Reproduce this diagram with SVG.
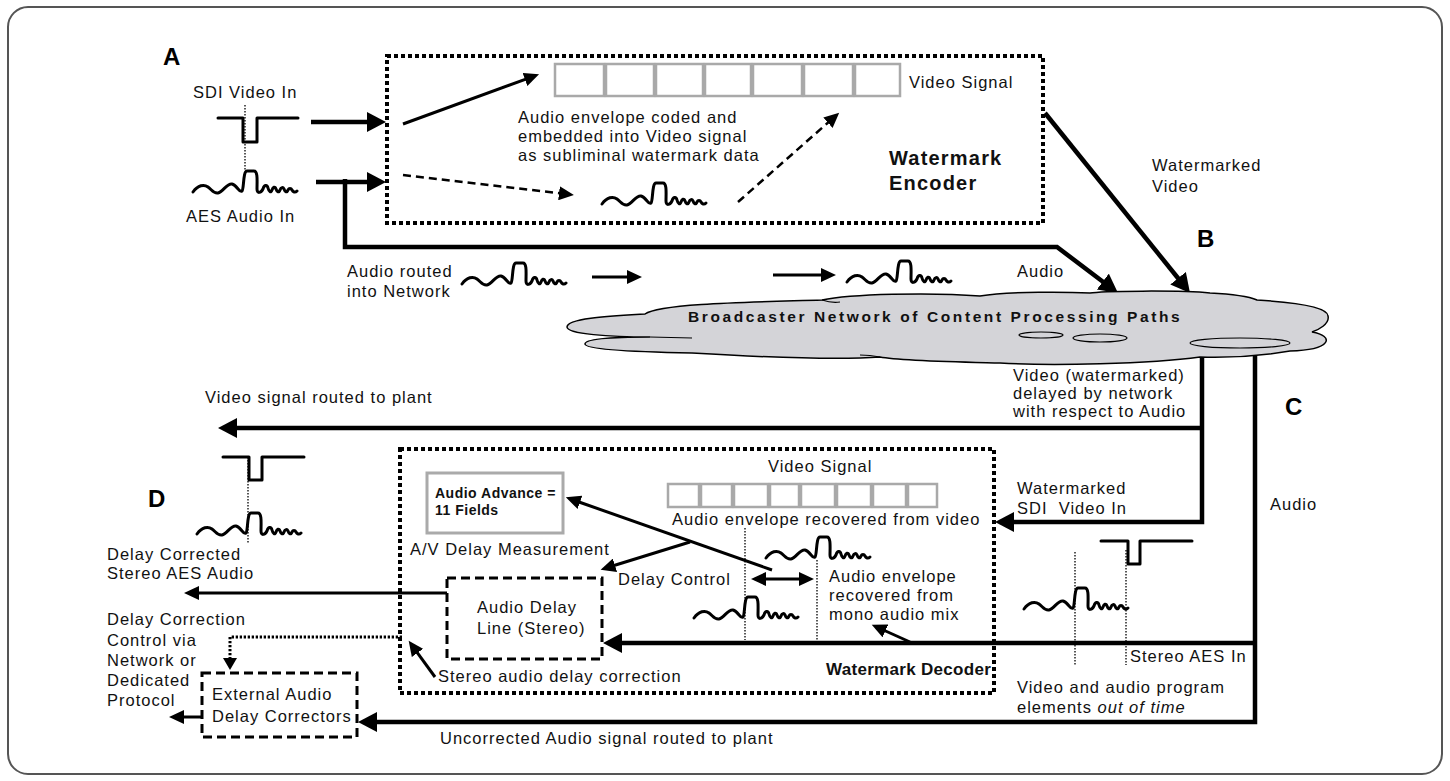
<svg xmlns="http://www.w3.org/2000/svg" width="1450" height="781" viewBox="0 0 1450 781">
<defs>
<style>
.t{font-family:"Liberation Sans",Arial,Helvetica,sans-serif;font-size:16.5px;letter-spacing:1px;fill:#111}
.bd{font-weight:bold}
.L{font-family:"Liberation Sans",Arial,sans-serif;font-size:24px;font-weight:bold;fill:#000}
.thick{fill:none;stroke:#000;stroke-width:4.5}
.med{fill:none;stroke:#000;stroke-width:3}
.dash{fill:none;stroke:#000;stroke-width:2.5;stroke-dasharray:8 5}
.dotln{fill:none;stroke:#000;stroke-width:3;stroke-dasharray:2.3 1.7}
.sig{fill:none;stroke:#000;stroke-width:3;stroke-linejoin:round;stroke-linecap:round}
.sync{fill:none;stroke:#000;stroke-width:1.3;stroke-dasharray:1.5 1.5}
.box{fill:none;stroke:#000;stroke-width:4;stroke-dasharray:4 3}
.dbox{fill:none;stroke:#000;stroke-width:3;stroke-dasharray:9 5}
.cell{fill:#fff;stroke:#a9a9a9;stroke-width:2.5}
</style>
<marker id="hl" markerUnits="userSpaceOnUse" markerWidth="20" markerHeight="22" refX="1" refY="10" orient="auto"><path d="M0,0 L19,10 L0,20 z" fill="#000"/></marker>
<marker id="hm" markerUnits="userSpaceOnUse" markerWidth="16" markerHeight="14" refX="1" refY="7" orient="auto-start-reverse"><path d="M0,0 L15,7 L0,14 z" fill="#000"/></marker>
<marker id="hs" markerUnits="userSpaceOnUse" markerWidth="13" markerHeight="14" refX="1" refY="7" orient="auto"><path d="M0,0 L12,7 L0,14 z" fill="#000"/></marker>
<path id="wave" d="M-51,1 C-46,-6 -40,-7 -36,-4 C-32,-1 -30,3 -26,2 C-21,1 -17,-8 -12,-7 C-7,-6 -5,2 -2,0 C0,-2 -1,-20 3,-20 L10,-20 C14,-20 13,-10 13,-2 C13,3 17,2 19,-2 C20,-6 23,-7 24,-3 C25,1 27,2 28,-1 C29,-4 31,-5 32,-2 C33,1 35,2 36,-1 C37,-4 39,-4 40,-2 C41,1 43,2 44,-1 C45,-3 47,-3 48,-1 C49,1 51,2 53,0"/>
</defs>

<rect x="8" y="7" width="1434" height="767" rx="20" fill="#fff" stroke="#555" stroke-width="2"/>

<g id="connectors">
<path class="thick" d="M311,122 H368" marker-end="url(#hl)"/>
<path class="thick" d="M316,182 H368" marker-end="url(#hl)"/>
<path class="thick" d="M345,179 V247 H1057 L1103.6,282.2" marker-end="url(#hl)"/>
<path class="thick" d="M1045,113 L1178.7,279" marker-end="url(#hl)"/>
<path class="thick" d="M1202,340 V522 H1013" marker-end="url(#hl)"/>
<path class="thick" d="M1202,428 H236" marker-end="url(#hl)"/>
<path class="thick" d="M1255,340 V722 H376" marker-end="url(#hl)"/>
<path class="thick" d="M1255,643 H621" marker-end="url(#hl)"/>
<path class="med" d="M403,124 L525.9,79.1" marker-end="url(#hm)"/>
<path class="dash" d="M403,175 L560,193.3" marker-end="url(#hm)"/>
<path class="dash" d="M738,202 L828.7,122" marker-end="url(#hm)"/>
<path class="med" d="M592,277 H628" marker-end="url(#hm)"/>
<path class="med" d="M773,275 H822" marker-end="url(#hm)"/>
<path class="med" d="M772,570 L579,502" marker-end="url(#hm)"/>
<path class="med" d="M690,542 L614,565.5" marker-end="url(#hm)"/>
<path class="med" d="M765,579 H800" marker-start="url(#hm)" marker-end="url(#hm)"/>
<path class="med" d="M910,642 L884.5,630.5" marker-end="url(#hm)"/>
<path class="med" d="M435,677 L416.9,652.1" marker-end="url(#hm)"/>
<path class="med" d="M447,593 H198" marker-end="url(#hm)"/>
<path class="med" d="M202,717 H183" marker-end="url(#hm)"/>
<path class="dotln" d="M402,637 H230 V659" marker-end="url(#hs)"/>
</g>

<g id="input-signals">
<text class="L" x="163" y="65">A</text>
<text class="t" x="193" y="98">SDI Video In</text>
<path class="sig" d="M218,118 H243 V142 H257 V118 H298"/>
<path class="sync" d="M245,105 V170"/>
<use href="#wave" class="sig" x="244" y="191"/>
<text class="t" x="186" y="222">AES Audio In</text>
</g>

<g id="watermark-encoder">
<rect class="box" x="387" y="56" width="656" height="167"/>
<rect class="cell" x="555" y="64" width="49" height="32"/>
<rect class="cell" x="606" y="64" width="48" height="32"/>
<rect class="cell" x="656" y="64" width="47" height="32"/>
<rect class="cell" x="705" y="64" width="46" height="32"/>
<rect class="cell" x="753" y="64" width="49" height="32"/>
<rect class="cell" x="804" y="64" width="49" height="32"/>
<rect class="cell" x="855" y="64" width="45" height="32"/>
<text class="t" x="909" y="88">Video Signal</text>
<text class="t" x="518" y="123">Audio envelope coded and</text>
<text class="t" x="518" y="142">embedded into Video signal</text>
<text class="t" x="518" y="161">as subliminal watermark data</text>
<use href="#wave" class="sig" x="653" y="203"/>
<text class="t bd" x="889" y="165" style="font-size:20px;letter-spacing:1.2px">Watermark</text>
<text class="t bd" x="889" y="190" style="font-size:20px;letter-spacing:1.2px">Encoder</text>
</g>

<g id="network-labels">
<text class="t" x="1152" y="171">Watermarked</text>
<text class="t" x="1152" y="192">Video</text>
<text class="L" x="1197" y="247">B</text>
<text class="t" x="347" y="277">Audio routed</text>
<text class="t" x="347" y="297">into Network</text>
<use href="#wave" class="sig" x="513" y="283"/>
<use href="#wave" class="sig" x="898" y="281"/>
<text class="t" x="1017" y="277">Audio</text>
</g>

<g id="broadcaster-network">
<path d="M645,314 C660,303 760,302 822,300 C850,294 930,292 980,296 C1010,291 1070,292 1090,293 C1100,291 1180,290 1210,293 C1230,294 1250,297 1257,300 C1290,302 1328,306 1328,316 C1330,324 1318,330 1312,332 C1335,336 1332,350 1290,351 C1260,356 1230,358 1200,357 C1150,364 1050,366 1000,363 C960,362 900,361 880,357 C840,360 760,357 692,353 C640,352 585,350 585,344 C585,338 620,337 650,337 C610,337 567,334 567,327 C567,318 610,316 645,314 Z" fill="#d4d4d8" stroke="#000" stroke-width="1.5"/>
<path d="M650,337 L692,338 M822,300 C828,302 834,303 840,302 M880,357 C875,356 870,355 860,355" fill="none" stroke="#000" stroke-width="1.2"/>
<ellipse cx="1041" cy="335" rx="22" ry="3" fill="#d4d4d8" stroke="#000" stroke-width="1.2"/>
<ellipse cx="1100" cy="338" rx="27" ry="4" fill="#d4d4d8" stroke="#000" stroke-width="1.2"/>
<ellipse cx="1240" cy="343" rx="50" ry="5" fill="#d4d4d8" stroke="#000" stroke-width="1.2"/>
<text class="t bd" x="688" y="322" style="font-size:15.5px;letter-spacing:2.6px">Broadcaster Network of Content Processing Paths</text>
</g>

<g id="network-outputs">
<text class="t" x="1013" y="381">Video (watermarked)</text>
<text class="t" x="1013" y="399">delayed by network</text>
<text class="t" x="1013" y="417">with respect to Audio</text>
<text class="L" x="1285" y="415">C</text>
<text class="t" x="1270" y="510">Audio</text>
<text class="t" x="1017" y="494">Watermarked</text>
<text class="t" x="1017" y="514" xml:space="preserve">SDI  Video In</text>
<path class="sig" d="M1101,541 H1128 V564 H1140 V541 H1192"/>
<path class="sync" d="M1075,552 V665 M1126,550 V665"/>
<use href="#wave" class="sig" x="1075" y="608"/>
<text class="t" x="1130" y="662">Stereo AES In</text>
<text class="t" x="1017" y="693">Video and audio program</text>
<text class="t" x="1017" y="713">elements <tspan font-style="italic">out of time</tspan></text>
<text class="t" x="205" y="403">Video signal routed to plant</text>
<text class="t" x="440" y="744">Uncorrected Audio signal routed to plant</text>
</g>

<g id="watermark-decoder">
<rect class="box" x="400" y="449" width="594" height="244"/>
<text class="t" x="768" y="472">Video Signal</text>
<rect class="cell" x="668" y="484" width="31" height="23"/>
<rect class="cell" x="701" y="484" width="31" height="23"/>
<rect class="cell" x="734" y="484" width="34" height="23"/>
<rect class="cell" x="770" y="484" width="29" height="23"/>
<rect class="cell" x="801" y="484" width="34" height="23"/>
<rect class="cell" x="837" y="484" width="34" height="23"/>
<rect class="cell" x="873" y="484" width="33" height="23"/>
<rect class="cell" x="908" y="484" width="29" height="23"/>
<text class="t" x="672" y="525">Audio envelope recovered from video</text>
<text class="t" x="410" y="555">A/V Delay Measurement</text>
<text class="t" x="618" y="585">Delay Control</text>
<path class="sync" d="M745,528 V640 M817,560 V640"/>
<use href="#wave" class="sig" x="817" y="557"/>
<use href="#wave" class="sig" x="745" y="617"/>
<text class="t" x="829" y="582">Audio envelope</text>
<text class="t" x="829" y="601">recovered from</text>
<text class="t" x="829" y="620">mono audio mix</text>
<text class="t" x="438" y="682">Stereo audio delay correction</text>
<text class="t bd" x="826" y="675" style="font-size:17px;letter-spacing:0.3px">Watermark Decoder</text>
</g>

<g id="audio-advance">
<rect x="427" y="473" width="136" height="60" fill="#fff" stroke="#aaa" stroke-width="3"/>
<text class="t bd" x="435" y="498" style="font-size:14px;letter-spacing:0.5px">Audio Advance =</text>
<text class="t bd" x="435" y="515" style="font-size:14px;letter-spacing:0.5px">11 Fields</text>
</g>

<g id="audio-delay-line">
<rect class="dbox" x="447" y="578" width="155" height="81"/>
<text class="t" x="477" y="613">Audio Delay</text>
<text class="t" x="477" y="634">Line (Stereo)</text>
</g>

<g id="external-correctors">
<rect class="dbox" x="202" y="673" width="155" height="64"/>
<text class="t" x="212" y="700">External Audio</text>
<text class="t" x="212" y="722">Delay Correctors</text>
</g>

<g id="output-signals">
<text class="L" x="148" y="507">D</text>
<path class="sig" d="M223,457 H249 V480 H262 V457 H304"/>
<path class="sync" d="M248,457 V543"/>
<use href="#wave" class="sig" x="248" y="533"/>
<text class="t" x="107" y="560">Delay Corrected</text>
<text class="t" x="107" y="579">Stereo AES Audio</text>
<text class="t" x="107" y="625">Delay Correction</text>
<text class="t" x="107" y="646">Control via</text>
<text class="t" x="107" y="666">Network or</text>
<text class="t" x="107" y="686">Dedicated</text>
<text class="t" x="107" y="706">Protocol</text>
</g>
</svg>
